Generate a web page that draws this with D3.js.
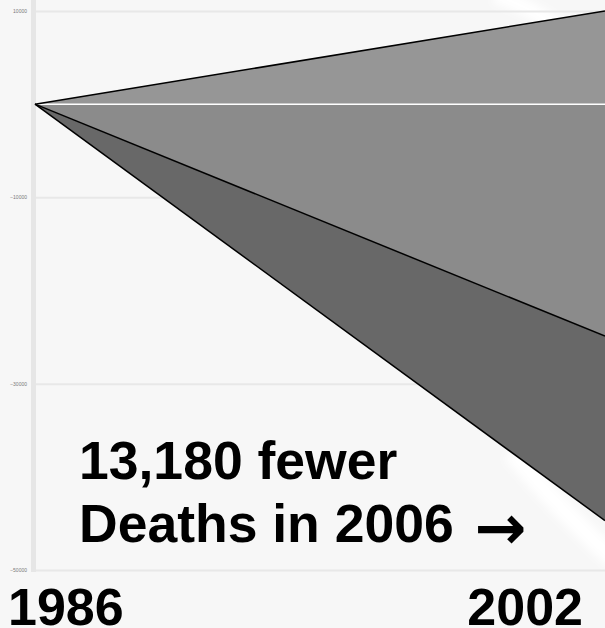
<!DOCTYPE html>
<html>
<head>
<meta charset="utf-8">
<script src="https://cdn.jsdelivr.net/npm/d3@7"></script>
<style>
  html, body { margin: 0; padding: 0; background: #f7f7f7; }
  svg { display: block; }
</style>
</head>
<body>
<div id="chart"></div>
<script>
(function () {
  'use strict';

  // chart data
  var years = [1986, 2002];
  var upperSeries = [0, 10000];
  var middleSeries = [0, -24900];
  var lowerSeries = [0, -44700];
  var yTicks = [10000, -10000, -30000, -50000];
  var xLabels = ["1986", "2002"];
  var noteLines = ["13,180 fewer", "Deaths in 2006"];

  var width = 605, height = 628;

  var svg = d3.select("#chart").append("svg")
      .attr("width", width)
      .attr("height", height);

  svg.append("rect")
      .attr("width", width)
      .attr("height", height)
      .attr("fill", "#f7f7f7");

  var x = d3.scaleLinear().domain([years[0], years[years.length - 1]]).range([35, 605]);
  var y = d3.scaleLinear().domain([-50000, 10000]).range([570, 11]);

  // soft white glow from the slide background
  var defs = svg.append("defs");
  defs.append("filter").attr("id", "glow")
      .append("feGaussianBlur").attr("stdDeviation", 4);

  var glow = svg.append("g").attr("filter", "url(#glow)");
  glow.append("path")
      .attr("d", "M495,-5 Q540,10 580,45")
      .attr("fill", "none").attr("stroke", "#ffffff").attr("stroke-width", 16);
  glow.append("path")
      .attr("d", "M512,452 Q560,510 615,560")
      .attr("fill", "none").attr("stroke", "#ffffff").attr("stroke-width", 20);

  // grid + y axis
  var yAxis = d3.axisLeft(y)
      .tickValues(yTicks)
      .tickSize(-(width - 36))
      .tickPadding(9)
      .tickFormat(d3.format("d"));

  var gy = svg.append("g")
      .attr("transform", "translate(36,0)")
      .call(yAxis);
  gy.select(".domain").remove();
  gy.selectAll(".tick line").attr("stroke", "#e8e8e8").attr("stroke-width", 2);
  gy.selectAll(".tick text")
      .attr("fill", "#7a7a7a")
      .style("font-family", "Liberation Sans, Arial, sans-serif")
      .style("font-size", "5px");

  svg.append("line")
      .attr("x1", 33.5).attr("x2", 33.5)
      .attr("y1", 0).attr("y2", y(-50000) + 2)
      .attr("stroke", "#e6e6e6").attr("stroke-width", 5);

  // stacked wedges
  function pts(vals) {
    return years.map(function (yr, i) { return { x: yr, v: vals[i] }; });
  }
  var zero = years.map(function () { return 0; });

  function band(top, bottom) {
    return d3.area()
      .x(function (d, i) { return x(years[i]); })
      .y0(function (d, i) { return y(bottom[i]); })
      .y1(function (d, i) { return y(top[i]); })(years);
  }

  svg.append("path").attr("d", band(upperSeries, zero)).attr("fill", "#969696");
  svg.append("path").attr("d", band(zero, middleSeries)).attr("fill", "#8b8b8b");
  svg.append("path").attr("d", band(middleSeries, lowerSeries)).attr("fill", "#686868");

  var line = d3.line()
      .x(function (d) { return x(d.x); })
      .y(function (d) { return y(d.v); });

  // white zero line
  svg.append("path")
      .attr("d", line(pts(zero)))
      .attr("stroke", "#ffffff").attr("stroke-width", 1.5).attr("fill", "none");

  [upperSeries, middleSeries, lowerSeries].forEach(function (s) {
    svg.append("path")
        .attr("d", line(pts(s)))
        .attr("stroke", "#000000").attr("stroke-width", 1.5).attr("fill", "none");
  });

  // annotation
  var note = svg.append("text")
      .attr("font-family", "Liberation Sans, Arial, sans-serif")
      .attr("font-weight", "bold")
      .attr("font-size", 53.5)
      .attr("fill", "#000");
  note.append("tspan").attr("x", 79).attr("y", 479).text(noteLines[0]);
  note.append("tspan").attr("x", 79).attr("y", 542).text(noteLines[1] + " ");
  note.append("tspan")
      .attr("font-family", "DejaVu Sans, sans-serif")
      .attr("font-weight", "bold")
      .attr("font-size", 62)
      .attr("dx", 6)
      .attr("dy", 7)
      .text("\u2192");

  // x labels
  svg.selectAll(".xlab")
      .data(xLabels)
      .enter().append("text")
        .attr("class", "xlab")
        .attr("x", function (d, i) { return i === 0 ? 8 : 583; })
        .attr("y", 625)
        .attr("text-anchor", function (d, i) { return i === 0 ? "start" : "end"; })
        .attr("font-family", "Liberation Sans, Arial, sans-serif")
        .attr("font-weight", "bold")
        .attr("font-size", 52)
        .attr("fill", "#000")
        .text(function (d) { return d; });
}());
</script>
</body>
</html>
